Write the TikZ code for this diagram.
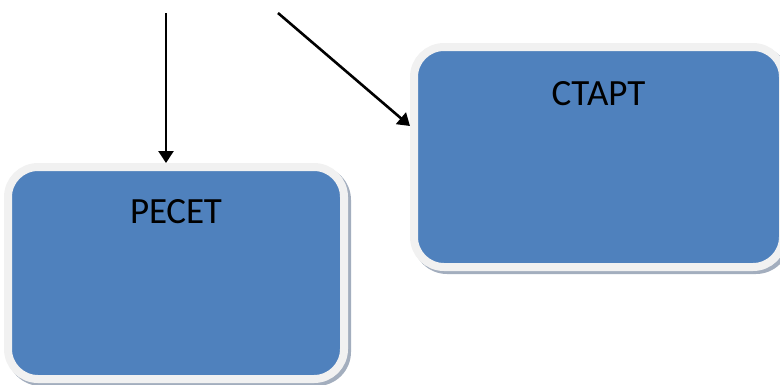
\documentclass[tikz,border=0pt]{standalone}
\usepackage{fontspec}
\setmainfont{Carlito}
\usetikzlibrary{arrows.meta,backgrounds}
\definecolor{boxblue}{HTML}{4F81BD}
\definecolor{boxrim}{HTML}{F1F1F1}
\definecolor{boxshade}{HTML}{A3AEBE}
\tikzset{
  blockbox/.style={rectangle, rounded corners=30pt, fill=boxblue, draw=boxrim,
    line width=8pt, inner sep=0pt},
  blocklabel/.style={font=\fontsize{37}{40}\selectfont, text=black, inner sep=0pt, anchor=center},
  shade/.style={fill=boxshade, rounded corners=34pt},
  arr/.style={line width=2.6pt, -{Triangle[length=12pt,width=15pt]}}
}
\begin{document}
\begin{tikzpicture}[x=1pt,y=-1pt]
\useasboundingbox (0,0) rectangle (780,384);
\node[blockbox, minimum width=336pt, minimum height=212pt] (reset) at (176,273) {};
\node[blockbox, minimum width=369pt, minimum height=220pt] (start) at (598.5,157) {};
\begin{scope}[on background layer]
\fill[shade] ([shift={(3pt,-3pt)}]reset.north west) rectangle ([shift={(3pt,-3pt)}]reset.south east);
\fill[shade] ([shift={(3pt,-3pt)}]start.north west) rectangle ([shift={(3pt,-3pt)}]start.south east);
\end{scope}
\node[blocklabel] (resetlbl) at ([yshift=-49pt]reset.north) {РЕСЕТ};
\node[blocklabel] (startlbl) at ([yshift=-51pt]start.north) {СТАРТ};
\coordinate (in1) at (166,13);
\coordinate (in2) at (278,13);
\draw[arr] (in1) -- (in1 |- reset.north);
\draw[arr] (in2) -- ([yshift=31pt]start.west);
\end{tikzpicture}
\end{document}
